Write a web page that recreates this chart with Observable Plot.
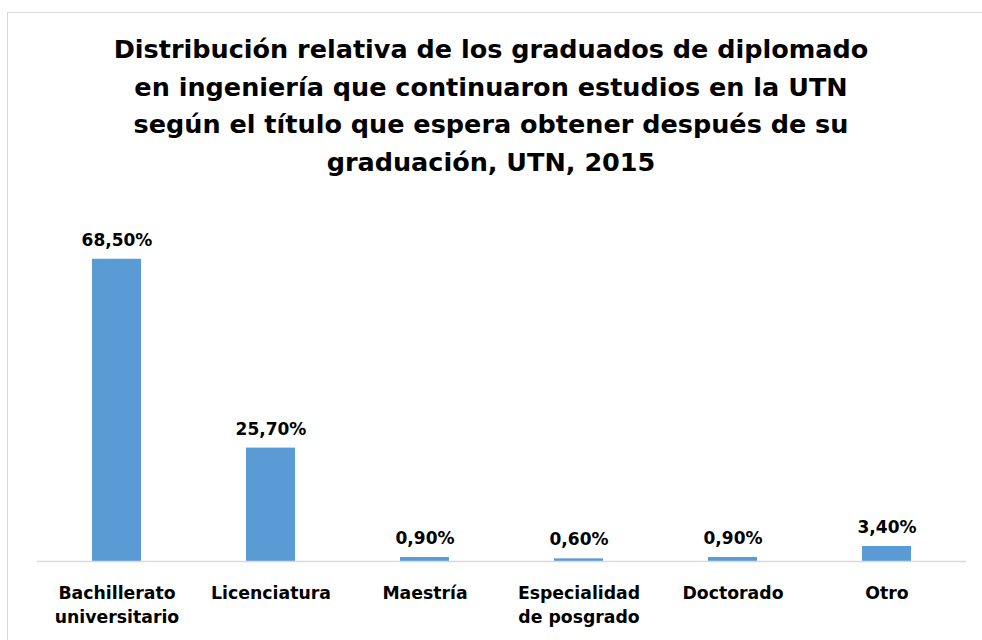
<!DOCTYPE html>
<html>
<head>
<meta charset="utf-8">
<script src="https://cdn.jsdelivr.net/npm/d3@7"></script>
<script src="https://cdn.jsdelivr.net/npm/@observablehq/plot@0.6"></script>
<style>
  html, body { margin: 0; padding: 0; background: #fff; }
  #wrap { position: relative; width: 982px; height: 640px; overflow: hidden; font-family: "DejaVu Sans", sans-serif; }
  #frame { position: absolute; left: 7px; top: 12px; width: 1000px; height: 700px; border: 1.5px solid #d9d9d9; box-sizing: border-box; }
  #title { position: absolute; left: 0; top: 31px; width: 982px; text-align: center; font-weight: bold; font-size: 25.5px; line-height: 37.5px; color: #000; }
  #chart { position: absolute; left: 0; top: 0; }
</style>
</head>
<body>
<div id="wrap">
  <div id="frame"></div>
  <div id="chart"></div>
  <div id="title">Distribución relativa de los graduados de diplomado<br>en ingeniería que continuaron estudios en la UTN<br>según el título que espera obtener después de su<br>graduación, UTN, 2015</div>
</div>
<script>
const categories = ["Bachillerato universitario", "Licenciatura", "Maestría", "Especialidad de posgrado", "Doctorado", "Otro"];
const tickLabels = ["Bachillerato\nuniversitario", "Licenciatura", "Maestría", "Especialidad\nde posgrado", "Doctorado", "Otro"];
const values = [68.5, 25.7, 0.9, 0.6, 0.9, 3.4];

const data = categories.map((c, i) => ({category: c, value: values[i], tick: tickLabels[i]}));
const fmt = v => v.toFixed(2).replace(".", ",") + "%";

const plot = Plot.plot({
  width: 982,
  height: 640,
  marginLeft: 37,
  marginRight: 16,
  marginBottom: 79,
  marginTop: 208,
  style: {fontFamily: "'DejaVu Sans', sans-serif", background: "transparent"},
  x: {domain: categories, paddingInner: 0.684, paddingOuter: 0.342, align: 0.5},
  y: {domain: [0, 80], axis: null},
  marks: [
    Plot.barY(data, {x: "category", y: "value", fill: "#5b9bd5"}),
    Plot.ruleY([0], {stroke: "#d9d9d9", strokeWidth: 1.5}),
    Plot.text(data, {x: "category", y: "value", text: d => fmt(d.value), dy: -19, fontSize: 17, fontWeight: "bold", fill: "#000"}),
    Plot.axisX({tickSize: 0, tickPadding: 20, fontSize: 17.3, fontWeight: "bold", color: "#000", lineHeight: 1.4,
      tickFormat: c => tickLabels[categories.indexOf(c)], label: null, textAnchor: "middle"})
  ]
});
document.getElementById("chart").appendChild(plot);
</script>
</body>
</html>
